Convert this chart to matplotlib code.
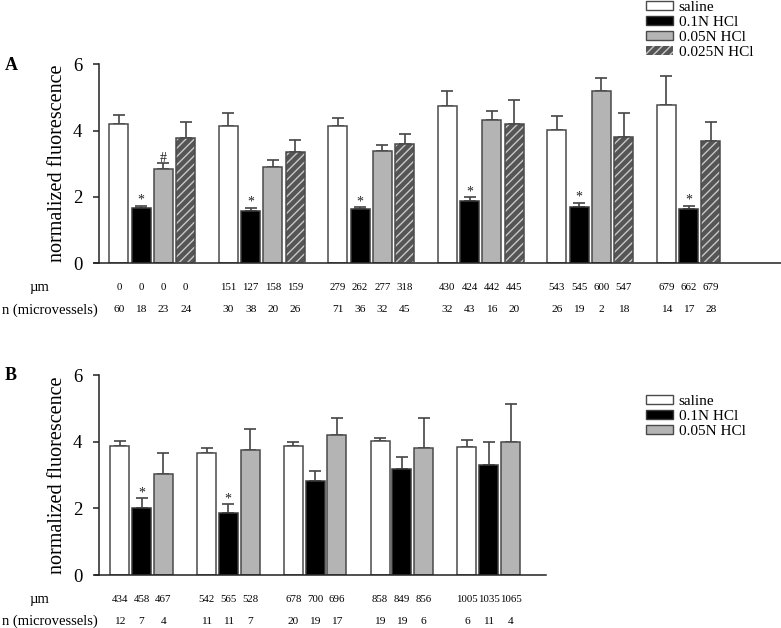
import numpy as np
import matplotlib
matplotlib.use("Agg")
import matplotlib.pyplot as plt
from matplotlib.transforms import blended_transform_factory
from matplotlib.patches import Patch

plt.rcParams["font.family"] = ["Liberation Serif", "DejaVu Serif"]
plt.rcParams["hatch.linewidth"] = 1.0

W, H = 781, 628
nan = np.nan

# ---- panel A data (mean, SEM) ----
a_saline = [4.20, 4.14, 4.14, 4.74, 4.03, 4.77]
a_saline_sem = [0.28, 0.40, 0.24, 0.46, 0.41, 0.88]
a_hcl01 = [1.67, 1.58, 1.64, 1.89, 1.70, 1.64]
a_hcl01_sem = [0.07, 0.10, 0.06, 0.10, 0.13, 0.10]
a_hcl005 = [2.83, 2.89, 3.39, 4.31, 5.19, nan]
a_hcl005_sem = [0.18, 0.21, 0.18, 0.27, 0.40, nan]
a_hcl0025 = [3.78, 3.37, 3.60, 4.21, 3.82, 3.70]
a_hcl0025_sem = [0.47, 0.35, 0.30, 0.70, 0.71, 0.56]

a_um_saline = [0, 151, 279, 430, 543, 679]
a_um_01 = [0, 127, 262, 424, 545, 662]
a_um_005 = [0, 158, 277, 442, 600, None]
a_um_0025 = [0, 159, 318, 445, 547, 679]
a_n_saline = [60, 30, 71, 32, 26, 14]
a_n_01 = [18, 38, 36, 43, 19, 17]
a_n_005 = [23, 20, 32, 16, 2, None]
a_n_0025 = [24, 26, 45, 20, 18, 28]

# ---- panel B data ----
b_saline = [3.86, 3.66, 3.88, 4.03, 3.85]
b_saline_sem = [0.15, 0.15, 0.10, 0.09, 0.21]
b_hcl01 = [2.00, 1.85, 2.83, 3.19, 3.30]
b_hcl01_sem = [0.30, 0.28, 0.29, 0.36, 0.68]
b_hcl005 = [3.02, 3.76, 4.20, 3.80, 3.98]
b_hcl005_sem = [0.63, 0.63, 0.52, 0.92, 1.15]

b_um_saline = [434, 542, 678, 858, 1005]
b_um_01 = [458, 565, 700, 849, 1035]
b_um_005 = [467, 528, 696, 856, 1065]
b_n_saline = [12, 11, 20, 19, 6]
b_n_01 = [7, 11, 19, 19, 11]
b_n_005 = [4, 7, 17, 6, 4]

labels = ["saline", "0.1N HCl", "0.05N HCl", "0.025N HCl"]
styles = [
    dict(facecolor="white", edgecolor="#4a4a4a"),
    dict(facecolor="black", edgecolor="#3a3a3a"),
    dict(facecolor="#b4b4b4", edgecolor="#4a4a4a"),
    dict(facecolor="#555555", edgecolor="#4a4a4a", hatch="////"),
]

fig = plt.figure(figsize=(W / 100, H / 100), dpi=100)


def draw_panel(ax, series, sems, ums, ns, marks, pitch, width, row_um, row_n, nslots):
    ngroups = len(series[0])
    edge = blended_transform_factory(ax.transData, fig.transFigure)
    for g in range(ngroups):
        present = [s for s in range(len(series)) if not np.isnan(series[s][g])]
        for slot, s in enumerate(present):
            x = g + (slot - (nslots - 1) / 2) * pitch
            v, e = series[s][g], sems[s][g]
            st = styles[s]
            if "hatch" in st:
                ax.bar(x, v, width, color=st["facecolor"], edgecolor="#c8c8c8",
                       hatch=st["hatch"], linewidth=0, zorder=2)
                ax.bar(x, v, width, fill=False, edgecolor=st["edgecolor"],
                       linewidth=1.1, zorder=3)
            else:
                ax.bar(x, v, width, color=st["facecolor"], edgecolor=st["edgecolor"],
                       linewidth=1.1, zorder=2)
            ax.errorbar(x, v, yerr=[[0], [e]], fmt="none", ecolor="#444444",
                        elinewidth=1.2, capsize=4.3, capthick=1.2, zorder=1, clip_on=False)
            if (s, g) in marks:
                ax.text(x, v + e + 0.05, marks[(s, g)], ha="center", va="baseline",
                        fontsize=10, color="#222222")
            ax.text(x, 1 - row_um / H, str(ums[s][g]), transform=edge,
                    ha="center", va="center", fontsize=7.8)
            ax.text(x, 1 - row_n / H, str(ns[s][g]), transform=edge,
                    ha="center", va="center", fontsize=8.2)

    ax.set_ylim(0, 6)
    ax.set_yticks([0, 2, 4, 6])
    ax.spines[["top", "right"]].set_visible(False)
    for sp in ["left", "bottom"]:
        ax.spines[sp].set_linewidth(1.1)
        ax.spines[sp].set_color("#222222")
    ax.spines["left"].set_bounds(0, 6)
    ax.tick_params(axis="y", direction="out", length=4, width=1.1, pad=8,
                   labelsize=13.5, color="#222222")
    ax.tick_params(axis="x", bottom=False, labelbottom=False)
    ax.set_facecolor("none")


# panel A
axA = fig.add_axes([94 / W, 1 - 263.3 / H, (W - 94) / W, 199 / H])
pitch_a, width_a = 22.3 / 109.5, 19 / 109.5
axA.set_xlim((94 - 152.3) / 109.5, (W - 152.3) / 109.5)
axA.spines["left"].set_position(("axes", 5 / (W - 94)))
marks_a = {(1, g): "*" for g in range(6)}
marks_a[(2, 0)] = "#"
draw_panel(axA,
           [a_saline, a_hcl01, a_hcl005, a_hcl0025],
           [a_saline_sem, a_hcl01_sem, a_hcl005_sem, a_hcl0025_sem],
           [a_um_saline, a_um_01, a_um_005, a_um_0025],
           [a_n_saline, a_n_01, a_n_005, a_n_0025],
           marks_a, pitch_a, width_a, 287, 310, 4)

# panel B
axB = fig.add_axes([95 / W, 1 - 575 / H, (546 - 95) / W, 200 / H])
pitch_b, width_b = 21.8 / 86.8, 19 / 86.8
axB.set_xlim((95 - 141.5) / 86.8, (546 - 141.5) / 86.8)
axB.spines["left"].set_position(("axes", 4 / (546 - 95)))
marks_b = {(1, 0): "*", (1, 1): "*"}
draw_panel(axB,
           [b_saline, b_hcl01, b_hcl005],
           [b_saline_sem, b_hcl01_sem, b_hcl005_sem],
           [b_um_saline, b_um_01, b_um_005],
           [b_n_saline, b_n_01, b_n_005],
           marks_b, pitch_b, width_b, 599, 621, 3)

# y labels, panel letters, row labels
for yc in [163, 475]:
    fig.text(57 / W, 1 - yc / H, "normalized fluorescence", rotation=90,
             ha="center", va="center", fontsize=14.5)
fig.text(5 / W, 1 - 65 / H, "A", fontsize=13, fontweight="bold", va="center")
fig.text(5 / W, 1 - 375 / H, "B", fontsize=13, fontweight="bold", va="center")
for um_y, n_y in [(287, 310), (599, 621)]:
    fig.text(39 / W, 1 - um_y / H, "\u00b5m", ha="center", va="center", fontsize=10.5)
    fig.text(50 / W, 1 - n_y / H, "n (microvessels)", ha="center", va="center", fontsize=10.5)


def handles(k):
    out = []
    for st in styles[:k]:
        if "hatch" in st:
            out.append(Patch(facecolor=st["facecolor"], edgecolor="#c8c8c8",
                             hatch=st["hatch"], linewidth=0))
        else:
            out.append(Patch(facecolor=st["facecolor"], edgecolor=st["edgecolor"], linewidth=1))
    return out


leg_kw = dict(frameon=False, fontsize=11, handlelength=1.75, handleheight=0.6,
              handletextpad=0.4, labelspacing=0.12, borderpad=0, borderaxespad=0,
              loc="upper left", bbox_transform=fig.transFigure)
fig.legend(handles(4), labels, bbox_to_anchor=(646 / W, 1 - 0.5 / H), **leg_kw)
fig.legend(handles(3), labels[:3], bbox_to_anchor=(646 / W, 1 - 394.5 / H), **leg_kw)

fig.savefig("out.png", dpi=100)
